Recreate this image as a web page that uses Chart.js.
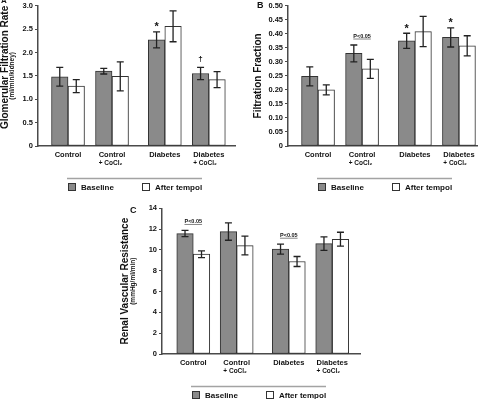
<!DOCTYPE html>
<html>
<head>
<meta charset="utf-8">
<script src="https://cdn.jsdelivr.net/npm/chart.js@4.4.0/dist/chart.umd.min.js"></script>
<style>
  body { margin: 0; background: #fff; }
  #wrap { position: relative; width: 486px; height: 399px; overflow: hidden; }
  canvas { position: absolute; }
  #gfr { left: 0; top: 0; }
  #ff { left: 240px; top: 0; }
  #rvr { left: 120px; top: 200px; }
</style>
</head>
<body>
<div id="wrap">
  <canvas id="gfr" width="240" height="200"></canvas>
  <canvas id="ff" width="246" height="200"></canvas>
  <canvas id="rvr" width="260" height="199"></canvas>
</div>
<script>
const groups = ['Control', 'Control + CoCl₂', 'Diabetes', 'Diabetes + CoCl₂'];
const seriesNames = ['Baseline', 'After tempol'];

// A - glomerular filtration rate (ml/min/kidney)
const gfrBase = [1.48, 1.60, 2.27, 1.55];
const gfrBaseErr = [0.20, 0.06, 0.17, 0.13];
const gfrTempol = [1.28, 1.49, 2.56, 1.42];
const gfrTempolErr = [0.14, 0.31, 0.33, 0.17];
const gfrMarks = ['', '', '*', '†'];
const gfrPairs = [false, false, false, false];
const gfrTicks = [0, 0.5, 1.0, 1.5, 2.0, 2.5, 3.0];

// B - filtration fraction
const ffBase = [0.248, 0.330, 0.375, 0.387];
const ffBaseErr = [0.034, 0.030, 0.027, 0.034];
const ffTempol = [0.200, 0.275, 0.408, 0.357];
const ffTempolErr = [0.018, 0.034, 0.054, 0.036];
const ffMarks = ['', '', '*', '*'];
const ffPairs = [false, true, false, false];
const ffTicks = [0, 0.05, 0.10, 0.15, 0.20, 0.25, 0.30, 0.35, 0.40, 0.45, 0.50];

// C - renal vascular resistance (mmHg/ml/min)
const rvrBase = [11.57, 11.76, 10.07, 10.61];
const rvrBaseErr = [0.30, 0.83, 0.48, 0.65];
const rvrTempol = [9.59, 10.42, 8.89, 11.03];
const rvrTempolErr = [0.32, 0.90, 0.48, 0.67];
const rvrMarks = ['', '', '', ''];
const rvrPairs = [true, false, true, false];
const rvrTicks = [0, 2, 4, 6, 8, 10, 12, 14];

const FAMILY = '"Liberation Sans", Arial, Helvetica, sans-serif';
Chart.defaults.font.family = FAMILY;
Chart.defaults.color = '#111';

// x position of each group, diabetes groups sit a little further right
const groupPos = [1, 2, 3.2, 4.2];

function font(size, weight) {
  return (weight || 'bold') + ' ' + size + 'px ' + FAMILY;
}

// mean +/- error whiskers
const errorBars = {
  id: 'errorBars',
  afterDatasetsDraw(chart) {
    const { ctx } = chart;
    const y = chart.scales.y;
    ctx.save();
    ctx.strokeStyle = '#222';
    ctx.lineWidth = 1.3;
    chart.data.datasets.forEach((ds, di) => {
      chart.getDatasetMeta(di).data.forEach((bar, i) => {
        const v = ds.data[i].y;
        const top = y.getPixelForValue(v + ds.errors[i]);
        const bot = y.getPixelForValue(v - ds.errors[i]);
        ctx.beginPath();
        ctx.moveTo(bar.x, top); ctx.lineTo(bar.x, bot);
        ctx.moveTo(bar.x - 3.5, top); ctx.lineTo(bar.x + 3.5, top);
        ctx.moveTo(bar.x - 3.5, bot); ctx.lineTo(bar.x + 3.5, bot);
        ctx.stroke();
      });
    });
    ctx.restore();
  }
};

// letters, units, second label line, significance marks, legend
const decor = {
  id: 'decor',
  afterDraw(chart, args, o) {
    const { ctx, chartArea: area } = chart;
    const x = chart.scales.x;
    const y = chart.scales.y;
    const sets = chart.data.datasets;
    const errTop = (di, i) => y.getPixelForValue(sets[di].data[i].y + sets[di].errors[i]);
    ctx.save();
    ctx.fillStyle = '#111';

    ctx.font = font(o.letterSize);
    ctx.textAlign = 'left';
    ctx.textBaseline = 'top';
    ctx.fillText(o.letter, o.letterX, o.letterY);

    if (o.unit) {
      ctx.save();
      ctx.translate(y.left + o.unitX, (area.top + area.bottom) / 2);
      ctx.rotate(-Math.PI / 2);
      ctx.font = font(6.5);
      ctx.textAlign = 'center';
      ctx.textBaseline = 'middle';
      ctx.fillText(o.unit, 0, 0);
      ctx.restore();
    }

    // "+ CoCl2" line, smaller and left aligned under the group name
    groups.forEach((g, i) => {
      const parts = g.split(' + ');
      if (parts.length < 2) return;
      ctx.font = font(7.5);
      const w = ctx.measureText(parts[0]).width;
      ctx.font = font(6.5);
      ctx.textAlign = 'left';
      ctx.textBaseline = 'middle';
      ctx.fillText('+ ' + parts[1], x.getPixelForValue(groupPos[i]) - w / 2, area.bottom + 17);
    });

    // * and dagger over the baseline bars
    const meta0 = chart.getDatasetMeta(0);
    const meta1 = chart.getDatasetMeta(1);
    o.marks.forEach((m, i) => {
      if (!m) return;
      const star = m === '*';
      ctx.font = font(star ? 11 : 8);
      ctx.textAlign = 'center';
      ctx.textBaseline = 'alphabetic';
      ctx.fillText(m, meta0.data[i].x, errTop(0, i) - (star ? 1.5 : 6.5));
    });

    // P<0.05 between the two bars of a group
    o.pairs.forEach((on, i) => {
      if (!on) return;
      const cx = (meta0.data[i].x + meta1.data[i].x) / 2;
      const ly = Math.min(errTop(0, i), errTop(1, i)) - 6;
      ctx.font = font(5.5);
      const w = ctx.measureText('P<0.05').width;
      ctx.textAlign = 'center';
      ctx.textBaseline = 'alphabetic';
      ctx.fillText('P<0.05', cx, ly - 1.5);
      ctx.strokeStyle = '#666';
      ctx.lineWidth = 0.8;
      ctx.beginPath();
      ctx.moveTo(cx - w / 2, ly); ctx.lineTo(cx + w / 2, ly);
      ctx.stroke();
    });

    // legend with the grey rule above it
    const lx = area.left;
    const lb = area.bottom;
    ctx.strokeStyle = '#a3a3a3';
    ctx.lineWidth = 1.5;
    ctx.beginPath();
    ctx.moveTo(lx + 29, lb + 32.5); ctx.lineTo(lx + 164, lb + 32.5);
    ctx.stroke();
    sets.forEach((ds, i) => {
      const bx = lx + 30 + i * 74;
      ctx.fillStyle = ds.backgroundColor;
      ctx.fillRect(bx, lb + 37, 8, 8);
      ctx.strokeStyle = '#333';
      ctx.lineWidth = 1;
      ctx.strokeRect(bx + 0.5, lb + 37.5, 7, 7);
      ctx.fillStyle = '#111';
      ctx.font = font(8);
      ctx.textAlign = 'left';
      ctx.textBaseline = 'middle';
      ctx.fillText(ds.label, bx + 13, lb + 41.5);
    });
    ctx.restore();
  }
};

function panel(id, p) {
  return new Chart(document.getElementById(id), {
    type: 'bar',
    data: {
      datasets: [
        {
          label: seriesNames[0],
          data: p.base.map((v, i) => ({ x: groupPos[i], y: v })),
          errors: p.baseErr,
          backgroundColor: '#8a8a8a'
        },
        {
          label: seriesNames[1],
          data: p.tempol.map((v, i) => ({ x: groupPos[i], y: v })),
          errors: p.tempolErr,
          backgroundColor: '#ffffff'
        }
      ]
    },
    options: {
      responsive: false,
      animation: false,
      devicePixelRatio: 1,
      events: [],
      layout: { padding: { top: p.top, right: p.right, left: 0, bottom: 0 } },
      datasets: {
        bar: { barThickness: 16.5, borderWidth: 1, borderColor: '#333', borderSkipped: false }
      },
      plugins: {
        legend: { display: false },
        tooltip: { enabled: false },
        decor: {
          letter: p.letter, letterX: p.letterX, letterY: p.letterY, letterSize: p.letterSize,
          unit: p.unit, unitX: p.unitX,
          marks: p.marks, pairs: p.pairs
        }
      },
      scales: {
        x: {
          type: 'linear',
          offset: false,
          min: p.xMin,
          max: p.xMax,
          afterBuildTicks: s => { s.ticks = groupPos.map(v => ({ value: v })); },
          afterFit: s => { s.height = p.bottom; },
          grid: { display: false, drawTicks: false },
          border: { color: '#4a4a4a', width: 1.5 },
          ticks: {
            autoSkip: false,
            maxRotation: 0,
            padding: 5,
            font: { size: 7.5, weight: 'bold', lineHeight: 1 },
            callback: (v, i) => groups[i].split(' + ')[0]
          }
        },
        y: {
          min: p.ticks[0],
          max: p.ticks[p.ticks.length - 1],
          afterBuildTicks: s => { s.ticks = p.ticks.map(v => ({ value: v })); },
          afterFit: s => { s.width = p.yWidth; },
          grid: { drawOnChartArea: false, tickLength: 3, color: '#4a4a4a', lineWidth: 1 },
          border: { color: '#4a4a4a', width: 1.5 },
          ticks: {
            padding: 2,
            font: { size: 7.5, weight: 'bold', lineHeight: 1 },
            callback: v => (v === 0 ? '0' : v.toFixed(p.decimals))
          },
          title: {
            display: true,
            text: p.title,
            align: p.titleAlign,
            font: { size: 10, weight: 'bold', lineHeight: 1 },
            padding: { top: p.titlePad, bottom: 0 }
          }
        }
      }
    },
    plugins: [errorBars, decor]
  });
}

panel('gfr', {
  base: gfrBase, baseErr: gfrBaseErr, tempol: gfrTempol, tempolErr: gfrTempolErr,
  marks: gfrMarks, pairs: gfrPairs, ticks: gfrTicks, decimals: 1,
  title: 'Glomerular Filtration Rate', titleAlign: 'end', unit: '(ml/min/kidney)', unitX: 12.5, titlePad: 0,
  letter: 'A', letterX: 1, letterY: -3.5, letterSize: 8,
  top: 5, right: 5, bottom: 54, yWidth: 38, xMin: 0.318, xMax: 4.795
});

panel('ff', {
  base: ffBase, baseErr: ffBaseErr, tempol: ffTempol, tempolErr: ffTempolErr,
  marks: ffMarks, pairs: ffPairs, ticks: ffTicks, decimals: 2,
  title: 'Filtration Fraction', titleAlign: 'center', unit: '', unitX: 0, titlePad: 13,
  letter: 'B', letterX: 17, letterY: 1, letterSize: 9,
  top: 4, right: 9, bottom: 54, yWidth: 48, xMin: 0.318, xMax: 4.61
});

panel('rvr', {
  base: rvrBase, baseErr: rvrBaseErr, tempol: rvrTempol, tempolErr: rvrTempolErr,
  marks: rvrMarks, pairs: rvrPairs, ticks: rvrTicks, decimals: 0,
  title: 'Renal Vascular Resistance', titleAlign: 'center', unit: '(mmHg/ml/min)', unitX: 13.3, titlePad: 0,
  letter: 'C', letterX: 10, letterY: 6, letterSize: 9,
  top: 8.3, right: 20, bottom: 45, yWidth: 42, xMin: 0.28, xMax: 4.84
});
</script>
</body>
</html>
